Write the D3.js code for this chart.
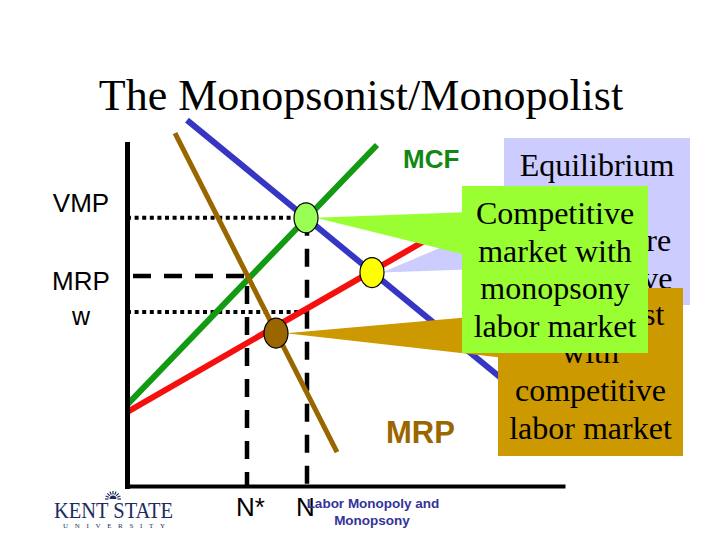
<!DOCTYPE html>
<html>
<head>
<meta charset="utf-8">
<script src="https://cdn.jsdelivr.net/npm/d3@7"></script>
<style>
  body { margin: 0; background: #fff; }
  svg { display: block; }
</style>
</head>
<body>
<svg id="chart" width="720" height="540"></svg>
<script>
// curves in chart units: x = labour employed, y = wage / value
const mcfLine = [[0, 2.37], [6.25, 9.97]];
const supplyLine = [[0, 2.16], [8.825, 8.10]];
const vmpLine = [[1.5, 10.70], [10.325, 2.22]];
const mrpLine = [[1.2, 10.32], [5.25, 0.99]];

// equilibrium points: monopsony, competitive, monopolist
const equilibria = [[4.475, 7.84], [6.125, 6.24], [3.725, 4.47]];

// reference levels
const nStar = 3.0, nComp = 4.5;
const levelVMP = 7.84, levelMRP = 6.14, levelW = 5.09;

const xTickValues = [nStar, nComp];
const xTickLabels = ['N*', 'N'];
const yTickValues = [8.28, 6.0, 4.95];
const yTickLabels = ['VMP', 'MRP', 'w'];

const calloutLines = [
  ['Equilibrium', 'where', 'markets are', 'competitive'],
  ['Monopolist', 'with', 'competitive', 'labor market'],
  ['Competitive', 'market with', 'monopsony', 'labor market']
];

const W = 720, H = 540;
const svg = d3.select('#chart');
svg.append('rect').attr('width', W).attr('height', H).attr('fill', '#fff');

const x = d3.scaleLinear().domain([0, 10.9]).range([127, 563]);
const y = d3.scaleLinear().domain([0, 10]).range([486, 144]);

// title
svg.append('text')
  .attr('x', 361).attr('y', 110)
  .attr('text-anchor', 'middle')
  .style('font-family', '"Liberation Serif", "Times New Roman", serif')
  .style('font-size', '44px')
  .text('The Monopsonist/Monopolist');

const line = d3.line().x(d => x(d[0])).y(d => y(d[1]));

// guide lines (dotted / dashed)
const guides = svg.append('g').attr('fill', 'none').attr('stroke', '#000');
guides.append('path')
  .attr('d', line([[0, levelVMP], [equilibria[0][0], levelVMP]]))
  .attr('stroke-width', 4).attr('stroke-dasharray', '4,3.6');
guides.append('path')
  .attr('d', line([[0, levelW], [nComp, levelW]]))
  .attr('stroke-width', 4).attr('stroke-dasharray', '4,3.6');
guides.append('path')
  .attr('d', line([[0.15, levelMRP], [nStar, levelMRP], [nStar, 0]]))
  .attr('stroke-width', 4.5).attr('stroke-dasharray', '18,13');
guides.append('path')
  .attr('d', line([[nComp, levelVMP], [nComp, 0]]))
  .attr('stroke-width', 4.5).attr('stroke-dasharray', '18,13');

// curves
const curves = [
  { pts: mcfLine, color: '#139a13', w: 6 },
  { pts: supplyLine, color: '#f51010', w: 6 },
  { pts: vmpLine, color: '#3636c4', w: 6 },
  { pts: mrpLine, color: '#996600', w: 5 }
];
svg.append('g').selectAll('path')
  .data(curves)
  .enter()
  .append('path')
  .attr('d', d => line(d.pts))
  .attr('fill', 'none')
  .attr('stroke', d => d.color)
  .attr('stroke-width', d => d.w);

// axes
const yAxis = d3.axisLeft(y)
  .tickValues(yTickValues)
  .tickFormat((d, i) => yTickLabels[i])
  .tickSize(0).tickSizeOuter(0);
const gy = svg.append('g').attr('transform', `translate(${x(0)},0)`).call(yAxis);
gy.select('.domain').attr('stroke-width', 5).attr('stroke-linecap', 'square');
gy.selectAll('text')
  .attr('x', -46)
  .attr('text-anchor', 'middle')
  .attr('fill', '#000')
  .style('font-family', '"Liberation Sans", Arial, sans-serif')
  .style('font-size', (d, i) => i === 2 ? '25px' : '26px');

const xAxis = d3.axisBottom(x)
  .tickValues(xTickValues)
  .tickFormat((d, i) => xTickLabels[i])
  .tickSize(0).tickSizeOuter(0);
const gx = svg.append('g').attr('transform', `translate(0,${y(0)})`).call(xAxis);
gx.select('.domain').attr('stroke-width', 4).attr('stroke-linecap', 'square');
gx.selectAll('text')
  .attr('y', 30).attr('dy', 0)
  .attr('dx', (d, i) => i === 0 ? 3 : -2)
  .attr('fill', '#000')
  .style('font-family', '"Liberation Sans", Arial, sans-serif')
  .style('font-size', '26px');

// curve labels
svg.append('text')
  .attr('x', 403).attr('y', 168)
  .attr('fill', '#128812')
  .style('font-family', '"Liberation Sans", Arial, sans-serif')
  .style('font-size', '26px').style('font-weight', 'bold')
  .text('MCF');
svg.append('text')
  .attr('x', 386).attr('y', 443)
  .attr('fill', '#996600')
  .style('font-family', '"Liberation Sans", Arial, sans-serif')
  .style('font-size', '31px').style('font-weight', 'bold')
  .text('MRP');

// callouts: lavender, gold, green (drawn in that order, later ones cover earlier)
const callouts = [
  { eq: 1, fill: '#ccccff', box: [504, 138, 186, 167], base: [510, 218, 268], y0: 176, lh: 37.6 },
  { eq: 2, fill: '#cc9900', box: [498, 288, 185, 168], base: [505, 314, 358], y0: 325, lh: 38 },
  { eq: 0, fill: '#99ff33', box: [462, 186, 186, 167], base: [470, 212, 256], y0: 224, lh: 37.7 }
];
callouts.forEach((c, i) => {
  const g = svg.append('g');
  const tx = x(equilibria[c.eq][0]) + 10, ty = y(equilibria[c.eq][1]);
  g.append('polygon')
    .attr('points', [[tx, ty], [c.base[0], c.base[1]], [c.base[0], c.base[2]]].join(' '))
    .attr('fill', c.fill);
  g.append('rect')
    .attr('x', c.box[0]).attr('y', c.box[1])
    .attr('width', c.box[2]).attr('height', c.box[3])
    .attr('fill', c.fill);
  g.selectAll('text')
    .data(calloutLines[i])
    .enter()
    .append('text')
    .attr('x', c.box[0] + c.box[2] / 2)
    .attr('y', (d, j) => c.y0 + j * c.lh)
    .attr('text-anchor', 'middle')
    .attr('fill', '#000')
    .style('font-family', '"Liberation Serif", "Times New Roman", serif')
    .style('font-size', '32px')
    .text(d => d);
});

// equilibrium points
const eqColors = ['#99ff55', '#ffff00', '#996600'];
svg.append('g').selectAll('ellipse')
  .data(equilibria)
  .enter()
  .append('ellipse')
  .attr('cx', d => x(d[0]))
  .attr('cy', d => y(d[1]))
  .attr('rx', 12).attr('ry', 15)
  .attr('fill', (d, i) => eqColors[i])
  .attr('stroke', '#000').attr('stroke-width', 1.2);

// footer
const foot = svg.append('g')
  .attr('fill', '#333399')
  .style('font-family', '"Liberation Sans", Arial, sans-serif')
  .style('font-size', '13.5px').style('font-weight', 'bold')
  .attr('text-anchor', 'middle');
foot.append('text').attr('x', 373).attr('y', 508).text('Labor Monopoly and');
foot.append('text').attr('x', 372).attr('y', 525).text('Monopsony');

// Kent State wordmark
const logo = svg.append('g').attr('fill', '#1d2b5e');
const sun = d3.range(0, 9).map(k => Math.PI + k * Math.PI / 8);
logo.append('path')
  .attr('d', d3.arc()({ innerRadius: 0, outerRadius: 3.5, startAngle: -Math.PI / 2, endAngle: Math.PI / 2 }))
  .attr('transform', 'translate(113,499)');
logo.selectAll('line')
  .data(sun)
  .enter()
  .append('line')
  .attr('x1', a => 113 + 4.5 * Math.cos(a)).attr('y1', a => 499 + 4.5 * Math.sin(a))
  .attr('x2', a => 113 + 8 * Math.cos(a)).attr('y2', a => 499 + 8 * Math.sin(a))
  .attr('stroke', '#1d2b5e').attr('stroke-width', 1.2);
logo.append('text')
  .attr('x', 54).attr('y', 518)
  .attr('textLength', 119).attr('lengthAdjust', 'spacingAndGlyphs')
  .style('font-family', '"Liberation Serif", "Times New Roman", serif')
  .style('font-size', '24px')
  .text('KENT STATE');
logo.append('text')
  .attr('x', 63).attr('y', 528)
  .attr('textLength', 102).attr('lengthAdjust', 'spacing')
  .style('font-family', '"Liberation Serif", "Times New Roman", serif')
  .style('font-size', '7px')
  .text('UNIVERSITY');
</script>
</body>
</html>
